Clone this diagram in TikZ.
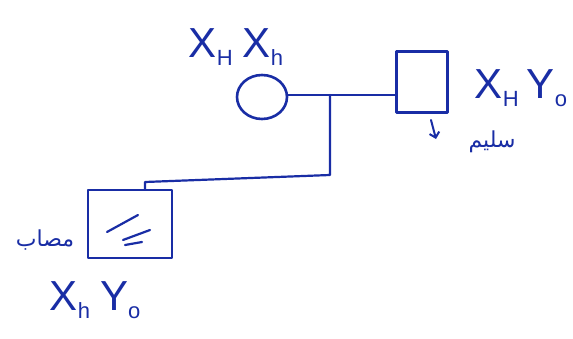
\documentclass[tikz,border=0pt]{standalone}
\usepackage{fontspec}
\usetikzlibrary{shapes.geometric,arrows.meta}
\setmainfont{Liberation Sans}
\newfontfamily\arabicfont[Script=Arabic]{DejaVu Sans}
\TeXXeTstate=1
\definecolor{ink}{RGB}{25,45,165}
\newcommand{\gsub}[1]{\raisebox{-0.35ex}{\fontsize{22}{24}\selectfont #1}}
\begin{document}
\begin{tikzpicture}[x=1pt,y=1pt,
  pen/.style={draw=ink,line width=2.6pt,line cap=round,line join=round},
  lbl/.style={text=ink,font=\fontsize{42}{46}\selectfont,inner sep=0pt},
  arlbl/.style={text=ink,font=\arabicfont\fontsize{22}{26}\selectfont,inner sep=0pt}]
\useasboundingbox (0,0) rectangle (573,338);
\fill[white] (0,0) rectangle (573,338);
% female
\node[pen,ellipse,minimum width=50pt,minimum height=44pt,inner sep=0pt,draw] (mother) at (262,241) {};
\node[lbl] (mlab) at (236,291) {X\gsub{H}\hspace{10pt}X\gsub{h}};
% male
\node[pen,rectangle,minimum width=51pt,minimum height=61pt,inner sep=0pt,draw] (father) at (422,256) {};
\node[lbl] (flab) at (521,250) {X\gsub{H}\hspace{8pt}Y\gsub{o}};
\node[arlbl] (fword) at (492,196) {\beginR سليم\endR};
\coordinate (atop) at (431,218);
\coordinate (abot) at (436,199);
\draw[pen,line width=2pt,-{Straight Barb[length=5pt]}] (atop) -- (abot);
% marriage line
\draw[pen,line width=2pt] (mother.east |- 0,243) -- (father.west |- 0,243);
\coordinate (drop) at (330,243);
\coordinate (bend1) at (330,163);
\coordinate (bend2) at (145,156);
% son
\node[pen,rectangle,minimum width=84pt,minimum height=68pt,inner sep=0pt,draw] (son) at (130,114) {};
\draw[pen,line width=2.2pt] (drop) -- (bend1) -- (bend2) -- (son.north -| bend2);
\draw[pen,line width=2.2pt] (107,106) -- (138,123);
\draw[pen,line width=2.2pt] (123,98) -- (150,108);
\draw[pen,line width=2.2pt] (125,93) -- (142,96);
\node[arlbl] (sword) at (45,98) {\beginR مصاب\endR};
\node[lbl] (slab) at (95,38) {X\gsub{h}\hspace{10pt}Y\gsub{o}};
\end{tikzpicture}
\end{document}
